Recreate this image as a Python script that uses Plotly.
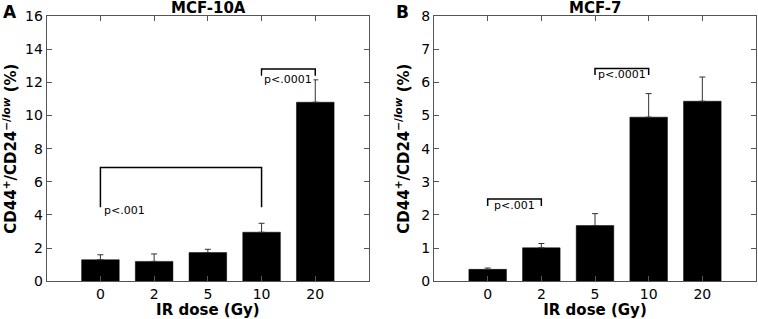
import plotly.graph_objects as go

doses = ["0", "2", "5", "10", "20"]
mcf10a_values = [1.3, 1.2, 1.73, 2.96, 10.8]
mcf10a_err = [0.3, 0.45, 0.2, 0.54, 1.35]
mcf7_values = [0.36, 1.01, 1.68, 4.95, 5.43]
mcf7_err = [0.04, 0.13, 0.36, 0.71, 0.73]

W, H = 758, 319
FONT = "DejaVu Sans"
ytitle = "<b>CD44<sup>+</sup>/CD24<sup>\u2212/<i>low</i></sup> (%)</b>"

fig = go.Figure()

def add_bars(vals, errs, xa, ya):
    fig.add_trace(go.Bar(
        x=doses, y=vals, xaxis=xa, yaxis=ya, width=0.7,
        marker=dict(color="black", line=dict(color="black", width=0.5)),
        error_y=dict(type="data", array=errs, arrayminus=[0] * len(errs), symmetric=False,
                     color="#333", thickness=1, width=3),
        showlegend=False, hoverinfo="skip"))

add_bars(mcf10a_values, mcf10a_err, "x", "y")
add_bars(mcf7_values, mcf7_err, "x2", "y2")

def bracket(x0, x1, ytop, ybot, xa, ya):
    fig.add_trace(go.Scatter(
        x=[doses[x0], doses[x0], doses[x1], doses[x1]], y=[ybot, ytop, ytop, ybot],
        xaxis=xa, yaxis=ya, mode="lines", line=dict(color="black", width=1.5),
        showlegend=False, hoverinfo="skip"))

bracket(0, 3, 6.86, 4.47, "x", "y")
bracket(3, 4, 12.8, 12.4, "x", "y")
bracket(0, 1, 2.48, 2.27, "x2", "y2")
bracket(2, 3, 6.42, 6.22, "x2", "y2")

PF = dict(size=11, family=FONT, color="black")
ann = []
ann.append(dict(x=0, y=4.3, xref="x", yref="y", text="p<.001", showarrow=False,
                xanchor="left", yanchor="middle", xshift=2, font=PF))
ann.append(dict(x=3.5, y=12.15, xref="x", yref="y", text="p<.0001", showarrow=False,
                xanchor="center", yanchor="middle", font=PF, bgcolor="white"))
ann.append(dict(x=0.5, y=2.28, xref="x2", yref="y2", text="p<.001", showarrow=False,
                xanchor="center", yanchor="middle", font=PF))
ann.append(dict(x=2.5, y=6.24, xref="x2", yref="y2", text="p<.0001", showarrow=False,
                xanchor="center", yanchor="middle", font=PF))
ann.append(dict(x=208 / W, y=1 - 8 / H, xref="paper", yref="paper", text="<b>MCF-10A</b>", showarrow=False,
                xanchor="center", yanchor="middle", font=dict(size=15, family=FONT, color="black")))
ann.append(dict(x=595 / W, y=1 - 8 / H, xref="paper", yref="paper", text="<b>MCF-7</b>", showarrow=False,
                xanchor="center", yanchor="middle", font=dict(size=15, family=FONT, color="black")))
ann.append(dict(x=10 / W, y=1 - 12 / H, xref="paper", yref="paper", text="<b>A</b>", showarrow=False,
                xanchor="center", yanchor="middle", font=dict(size=17, family=FONT, color="black")))
ann.append(dict(x=402 / W, y=1 - 12 / H, xref="paper", yref="paper", text="<b>B</b>", showarrow=False,
                xanchor="center", yanchor="middle", font=dict(size=17, family=FONT, color="black")))

axis_common = dict(showline=True, linecolor="#555", linewidth=1, mirror="ticks",
                   ticks="inside", ticklen=5, tickcolor="#555", showgrid=False, zeroline=False,
                   automargin=False,
                   tickfont=dict(size=14, family=FONT, color="black"))

XT = dict(text="<b>IR dose (Gy)</b>", font=dict(size=15, family=FONT, color="black"), standoff=4)
YT = dict(text=ytitle, font=dict(size=15, family=FONT, color="black"), standoff=8)

ydom = [1 - 281.3 / H, 1 - 16 / H]
fig.update_layout(
    template="none",
    width=W, height=H, margin=dict(l=0, r=0, t=0, b=0),
    plot_bgcolor="white", paper_bgcolor="white",
    font=dict(family=FONT, color="black"),
    annotations=ann,
    xaxis=dict(domain=[46.7 / W, 369 / W], anchor="y", type="category", range=[-1, 5],
               title=XT, **axis_common),
    yaxis=dict(domain=ydom, anchor="x", range=[0, 16], dtick=2, title=YT, **axis_common),
    xaxis2=dict(domain=[434 / W, 756 / W], anchor="y2", type="category", range=[-1, 5],
                title=XT, **axis_common),
    yaxis2=dict(domain=ydom, anchor="x2", range=[0, 8], dtick=1, title=YT, **axis_common),
)
fig.write_html("out.html", config={"displayModeBar": False},
               post_script="document.body.style.margin='0';document.body.style.overflow='hidden';")
